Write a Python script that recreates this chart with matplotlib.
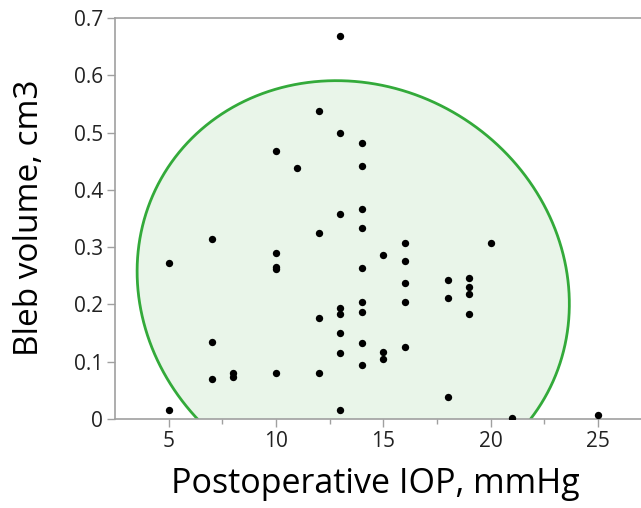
import numpy as np
import matplotlib
matplotlib.use("Agg")
import matplotlib.pyplot as plt

# Postoperative IOP (mmHg)
iop = [5, 5,
       7, 7, 7,
       8, 8,
       10, 10, 10, 10, 10,
       11,
       12, 12, 12, 12,
       13, 13, 13, 13, 13, 13, 13, 13,
       14, 14, 14, 14, 14, 14, 14, 14, 14,
       15, 15, 15,
       16, 16, 16, 16, 16,
       18, 18, 18,
       19, 19, 19, 19,
       20, 21, 25]
# Bleb volume (cm3)
bleb = [0.272, 0.016,
        0.315, 0.134, 0.070,
        0.080, 0.074,
        0.468, 0.289, 0.266, 0.262, 0.081,
        0.439,
        0.538, 0.325, 0.176, 0.081,
        0.669, 0.500, 0.357, 0.193, 0.184, 0.150, 0.116, 0.016,
        0.481, 0.442, 0.366, 0.333, 0.263, 0.205, 0.187, 0.132, 0.094,
        0.287, 0.117, 0.105,
        0.307, 0.275, 0.237, 0.205, 0.126,
        0.243, 0.211, 0.039,
        0.246, 0.231, 0.219, 0.184,
        0.307, 0.001, 0.007]

x_ticks = [5, 10, 15, 20, 25]
x_minor_ticks = [7.5, 12.5, 17.5, 22.5]
y_ticks = [0, 0.1, 0.2, 0.3, 0.4, 0.5, 0.6, 0.7]
y_ticklabels = ["0", "0.1", "0.2", "0.3", "0.4", "0.5", "0.6", "0.7"]
coverage = 0.95

plt.rcParams['font.family'] = ['Open Sans', 'DejaVu Sans']

fig = plt.figure(figsize=(6.41, 5.08), dpi=100)
ax = fig.add_axes([115/641, 1-419/508, 1-115/641, (419-18)/508])

# 95% bivariate normal density ellipse
X = np.array(iop, float)
Y = np.array(bleb, float)
mx, my = X.mean(), Y.mean()
cov = np.cov(X, Y)
vals, vecs = np.linalg.eigh(cov)
k = -2*np.log(1-coverage)
t = np.linspace(0, 2*np.pi, 400)
circ = np.vstack([np.cos(t), np.sin(t)])
pts = vecs @ (np.sqrt(vals*k)[:, None] * circ)
ex, ey = pts[0] + mx, pts[1] + my
ax.fill(ex, ey, facecolor='#e9f5e9', edgecolor='none', zorder=1)
ax.plot(ex, ey, color='#33aa3a', lw=2.0, zorder=2)

ax.scatter(iop, bleb, s=28, color='black', zorder=3, linewidths=0)

ax.set_xlim(2.5, 27)
ax.set_ylim(0, 0.7)
ax.set_xticks(x_ticks)
ax.set_xticks(x_minor_ticks, minor=True)
ax.set_yticks(y_ticks)
ax.set_yticklabels(y_ticklabels)
ax.tick_params(axis='both', which='major', direction='out', length=5.5, width=1,
               color='#a0a0a0', labelsize=15, labelcolor='#222222', pad=3)
ax.tick_params(axis='x', which='minor', direction='out', length=3.5, width=1,
               color='#a0a0a0')
for s in ['left', 'bottom', 'top']:
    ax.spines[s].set_color('#a0a0a0')
    ax.spines[s].set_linewidth(1.2)
ax.spines['right'].set_visible(False)

fig.text(0.585, 1-493/508, 'Postoperative IOP, mmHg', ha='center', va='baseline', fontsize=24.5, color='black')
fig.text(0.046, 1-217.5/508, 'Bleb volume, cm3', ha='center', va='center', rotation=90, fontsize=24, color='black')

fig.savefig('out.png', dpi=100)
